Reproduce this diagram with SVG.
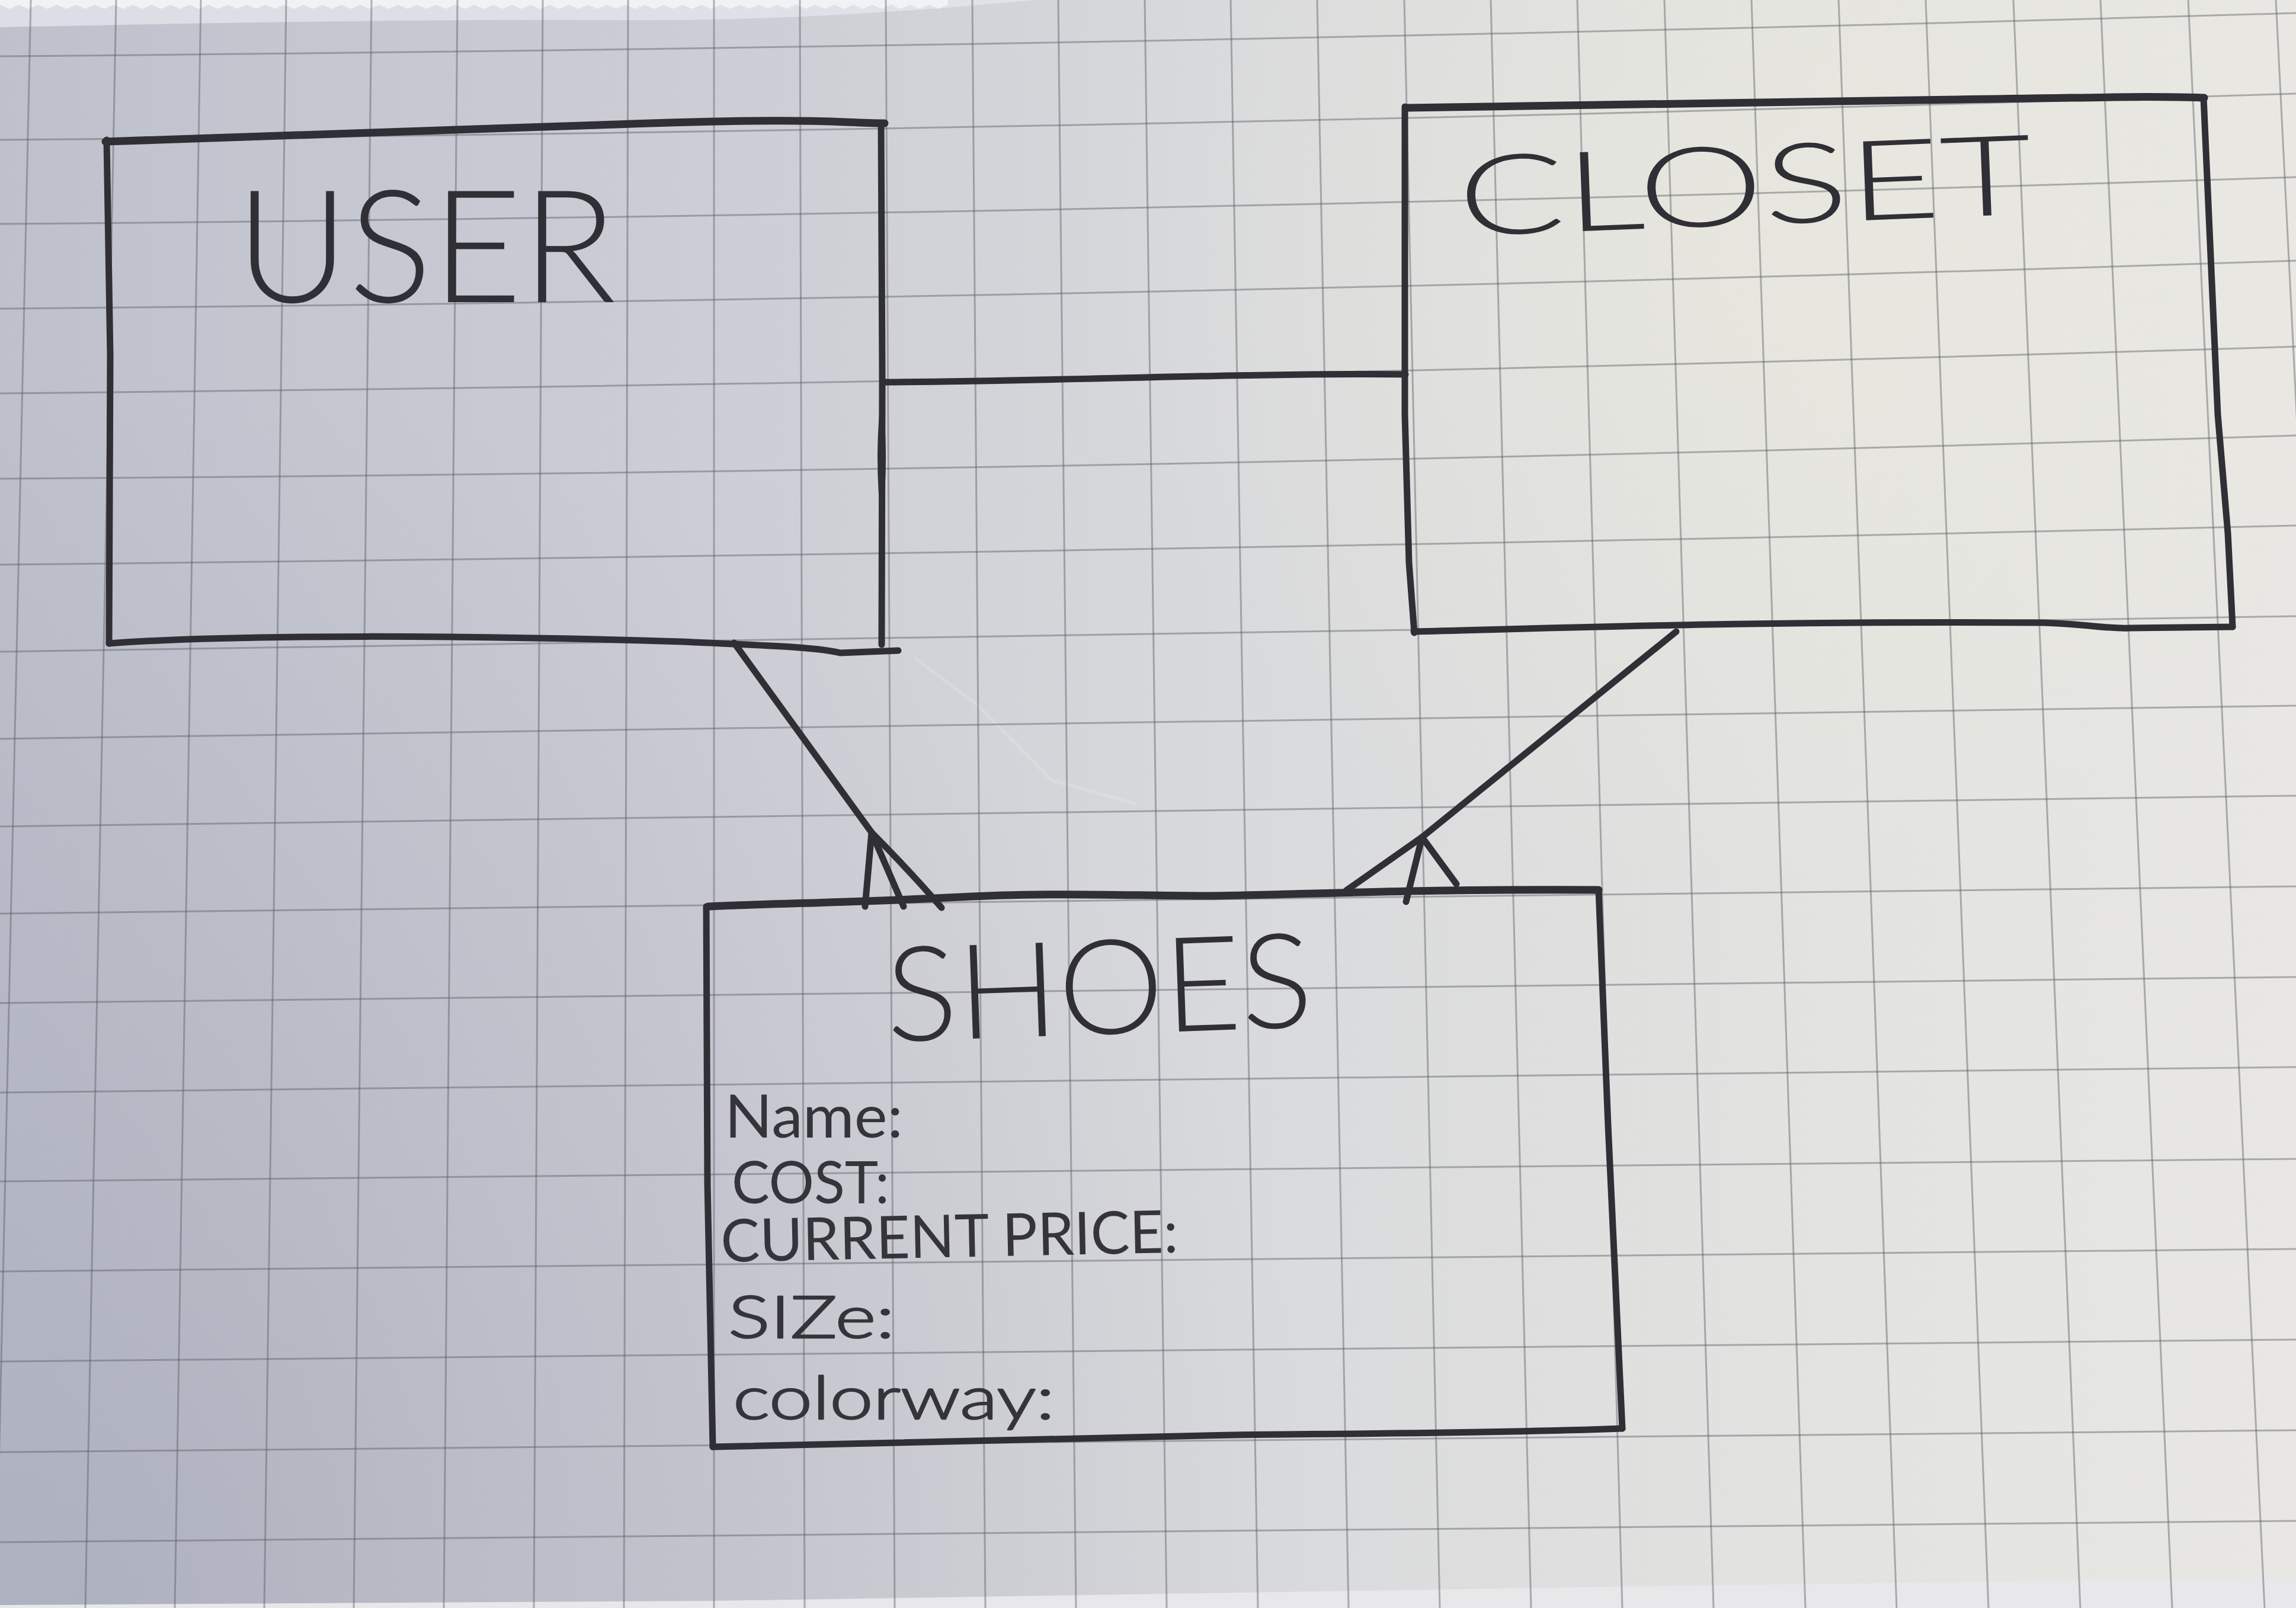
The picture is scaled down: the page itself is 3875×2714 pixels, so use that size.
<svg xmlns="http://www.w3.org/2000/svg" width="3875" height="2714" viewBox="0 0 3875 2714">
  <defs>
    <linearGradient id="paperTone" gradientUnits="userSpaceOnUse" x1="0" y1="0" x2="3875" y2="0">
      <stop offset="0" stop-color="#bec1cc"/>
      <stop offset="0.3" stop-color="#cccdd5"/>
      <stop offset="0.55" stop-color="#d9dadc"/>
      <stop offset="0.8" stop-color="#e3e3e0"/>
      <stop offset="1" stop-color="#e8e7e3"/>
    </linearGradient>
    <radialGradient id="shadeLow" gradientUnits="userSpaceOnUse" cx="150" cy="2714" r="2100">
      <stop offset="0" stop-color="#8a8da0" stop-opacity="0.32"/>
      <stop offset="1" stop-color="#8a8da0" stop-opacity="0"/>
    </radialGradient>
    <radialGradient id="warmGlow" gradientUnits="userSpaceOnUse" cx="2950" cy="420" r="1100">
      <stop offset="0" stop-color="#efeddd" stop-opacity="0.4"/>
      <stop offset="1" stop-color="#efeddd" stop-opacity="0"/>
    </radialGradient>
  </defs>
  <style>
    .grid{fill:none;stroke:#5b5d66;stroke-opacity:.45;stroke-width:3}
    .ink{fill:none;stroke:#2f2f35;stroke-width:11;stroke-linecap:round;stroke-linejoin:round}
    .heavy{stroke-width:13}
    .title{font-family:Lato,'Open Sans','Liberation Sans',sans-serif;font-weight:300;fill:#2f2f35}
    .attr{font-family:Lato,'Open Sans','Liberation Sans',sans-serif;font-weight:400;fill:#34343a}
    .wide{font-weight:300;stroke:#34343a;stroke-width:2.5;stroke-linejoin:round}
  </style>

  <!-- paper -->
  <g id="paper">
    <rect x="0" y="0" width="3875" height="2714" fill="url(#paperTone)"/>
    <rect x="0" y="0" width="3875" height="2714" fill="url(#shadeLow)"/>
    <rect x="0" y="0" width="3875" height="2714" fill="url(#warmGlow)"/>
    <!-- torn top edge -->
    <path d="M0,0 H1750 C1500,22 1300,36 1000,34 C700,32 300,40 0,46 Z" fill="#e4e7ee" fill-opacity="0.75"/>
    <path d="M0,0 H1600 V8 l-16,7 l-16,-7 l-16,7 l-16,-7 l-16,7 l-16,-7 l-16,7 l-16,-7 l-16,7 l-16,-7 l-16,7 l-16,-7 l-16,7 l-16,-7 l-16,7 l-16,-7 l-16,7 l-16,-7 l-16,7 l-16,-7 l-16,7 l-16,-7 l-16,7 l-16,-7 l-16,7 l-16,-7 l-16,7 l-16,-7 l-16,7 l-16,-7 l-16,7 l-16,-7 l-16,7 l-16,-7 l-16,7 l-16,-7 l-16,7 l-16,-7 l-16,7 l-16,-7 l-16,7 l-16,-7 l-16,7 l-16,-7 l-16,7 l-16,-7 l-16,7 l-16,-7 l-16,7 l-16,-7 l-16,7 l-16,-7 l-16,7 l-16,-7 l-16,7 l-16,-7 l-16,7 l-16,-7 l-16,7 l-16,-7 l-16,7 l-16,-7 l-16,7 l-16,-7 l-16,7 l-16,-7 l-16,7 l-16,-7 l-16,7 l-16,-7 l-16,7 l-16,-7 l-16,7 l-16,-7 l-16,7 l-16,-7 l-16,7 l-16,-7 l-16,7 l-16,-7 l-16,7 l-16,-7 l-16,7 l-16,-7 l-16,7 l-16,-7 l-16,7 l-16,-7 l-16,7 l-16,-7 l-16,7 l-16,-7 l-16,7 l-16,-7 l-16,7 l-16,-7 l-16,7 l-16,-7 l-16,7 l-16,-7 Z" fill="#f1f2f5"/>
    <!-- faint fold in the sheet -->
    <path d="M1543,1110 L1650,1190 L1775,1317 L1918,1357" fill="none" stroke="#ffffff" stroke-opacity="0.14" stroke-width="6"/>
    <!-- table showing below the sheet -->
    <path d="M0,2714 V2709 L1200,2702 L2600,2680 L3875,2662 V2714 Z" fill="#e8e8ea"/>

    <!-- printed grid: verticals -->
    <g class="grid">
      <line x1="52" y1="0" x2="-7" y2="2714"/>
      <line x1="196" y1="0" x2="144" y2="2714"/>
      <line x1="339" y1="0" x2="295" y2="2714"/>
      <line x1="483" y1="0" x2="446" y2="2714"/>
      <line x1="627" y1="0" x2="597" y2="2714"/>
      <line x1="772" y1="0" x2="749" y2="2714"/>
      <line x1="916" y1="0" x2="901" y2="2714"/>
      <line x1="1060" y1="0" x2="1053" y2="2714"/>
      <line x1="1205" y1="0" x2="1205" y2="2714"/>
      <line x1="1350" y1="0" x2="1358" y2="2714"/>
      <line x1="1495" y1="0" x2="1510" y2="2714"/>
      <line x1="1641" y1="0" x2="1663" y2="2714"/>
      <line x1="1786" y1="0" x2="1816" y2="2714"/>
      <line x1="1932" y1="0" x2="1969" y2="2714"/>
      <line x1="2077" y1="0" x2="2123" y2="2714"/>
      <line x1="2223" y1="0" x2="2276" y2="2714"/>
      <line x1="2370" y1="0" x2="2430" y2="2714"/>
      <line x1="2516" y1="0" x2="2584" y2="2714"/>
      <line x1="2662" y1="0" x2="2738" y2="2714"/>
      <line x1="2809" y1="0" x2="2892" y2="2714"/>
      <line x1="2956" y1="0" x2="3047" y2="2714"/>
      <line x1="3103" y1="0" x2="3201" y2="2714"/>
      <line x1="3250" y1="0" x2="3356" y2="2714"/>
      <line x1="3398" y1="0" x2="3511" y2="2714"/>
      <line x1="3545" y1="0" x2="3666" y2="2714"/>
      <line x1="3693" y1="0" x2="3822" y2="2714"/>
      <line x1="3841" y1="0" x2="3977" y2="2714"/>
    </g>
    <!-- printed grid: horizontals -->
    <g class="grid">
      <path d="M0,95 Q1937,79 3875,22"/>
      <path d="M0,236 Q1937,220 3875,158"/>
      <path d="M0,378 Q1937,362 3875,299"/>
      <path d="M0,521 Q1937,504 3875,440"/>
      <path d="M0,664 Q1937,645 3875,585"/>
      <path d="M0,808 Q1937,795 3875,735"/>
      <path d="M0,953 Q1937,933 3875,887"/>
      <path d="M0,1100 Q1937,1078 3875,1040"/>
      <path d="M0,1247 Q1937,1223 3875,1191"/>
      <path d="M0,1395 Q1937,1369 3875,1343"/>
      <path d="M0,1542 L3875,1496"/>
      <path d="M0,1693 L3875,1649"/>
      <path d="M0,1844 L3875,1801"/>
      <path d="M0,1994 L3875,1956"/>
      <path d="M0,2146 L3875,2108"/>
      <path d="M0,2298 L3875,2261"/>
      <path d="M0,2451 L3875,2414"/>
      <path d="M0,2603 L3875,2567"/>
    </g>
  </g>

  <!-- connectors -->
  <g id="connectors" class="ink">
    <path id="user-closet" d="M1490,645 C1640,644 1800,640 1933,637 S2250,630 2372,632"/>
    <g id="user-shoes">
      <path d="M1239,1085 L1471,1405 Q1540,1475 1589,1532"/>
      <path d="M1471,1405 L1460,1530"/>
      <path d="M1471,1405 L1525,1530"/>
    </g>
    <g id="closet-shoes">
      <path d="M2829,1066 L2400,1413 L2272,1503"/>
      <path d="M2400,1413 L2373,1522"/>
      <path d="M2400,1413 L2458,1492"/>
    </g>
  </g>

  <!-- entity: USER -->
  <g id="user">
    <g class="ink">
      <path class="heavy" d="M178,239 C400,232 700,222 1040,210 S1400,207 1493,208"/>
      <path d="M180,236 L186,600 L184,1086"/>
      <path d="M184,1086 C400,1070 800,1072 1150,1083 C1300,1090 1380,1092 1418,1102 L1516,1098"/>
      <path d="M1487,208 L1489,640 L1488,1088"/>
    </g>
    <path d="M1488,660 Q1502,770 1488,890 Q1474,770 1488,660 Z" fill="#2f2f35"/>
    <text class="title" x="398" y="510" font-size="265" textLength="642" lengthAdjust="spacingAndGlyphs">USER</text>
  </g>

  <!-- entity: CLOSET -->
  <g id="closet">
    <g class="ink">
      <path class="heavy" d="M2373,182 C2700,178 3000,172 3300,168 S3600,162 3720,165"/>
      <path d="M2371,180 L2371,700 L2378,950 L2387,1068"/>
      <path d="M3719,165 L3743,700 L3760,900 L3768,1058"/>
      <path d="M2386,1066 C2700,1058 3000,1048 3446,1051 C3520,1053 3560,1062 3594,1060 L3768,1058"/>
    </g>
    <text class="title" x="2463" y="398" font-size="188" textLength="969" lengthAdjust="spacingAndGlyphs" transform="rotate(-2.2 2463 398)">CLOSET</text>
  </g>

  <!-- entity: SHOES -->
  <g id="shoes">
    <g class="ink">
      <path class="heavy" d="M1195,1530 C1300,1525 1450,1523 1600,1515 C1780,1505 1900,1512 2043,1512 C2200,1510 2400,1500 2698,1502"/>
      <path d="M2698,1502 L2714,1900 L2738,2411"/>
      <path d="M2738,2411 C2500,2420 2200,2420 2080,2422 C1700,2430 1400,2440 1203,2442"/>
      <path d="M1192,1530 L1194,2000 L1203,2442"/>
    </g>
    <text class="title" x="1498" y="1758" font-size="223" textLength="720" lengthAdjust="spacingAndGlyphs" transform="rotate(-2 1498 1758)">SHOES</text>
    <text class="attr" x="1223" y="1920" font-size="100" textLength="301" lengthAdjust="spacingAndGlyphs">Name:</text>
    <text class="attr" x="1235" y="2031" font-size="98" textLength="266" lengthAdjust="spacingAndGlyphs">COST:</text>
    <text class="attr" x="1217" y="2130" font-size="100" textLength="772" lengthAdjust="spacingAndGlyphs" transform="rotate(-1.2 1217 2130)">CURRENT PRICE:</text>
    <text class="attr wide" x="1229" y="2258" font-size="98" textLength="281" lengthAdjust="spacingAndGlyphs">SIZe:</text>
    <text class="attr wide" x="1237" y="2395" font-size="100" textLength="543" lengthAdjust="spacingAndGlyphs">colorway:</text>
  </g>
</svg>
